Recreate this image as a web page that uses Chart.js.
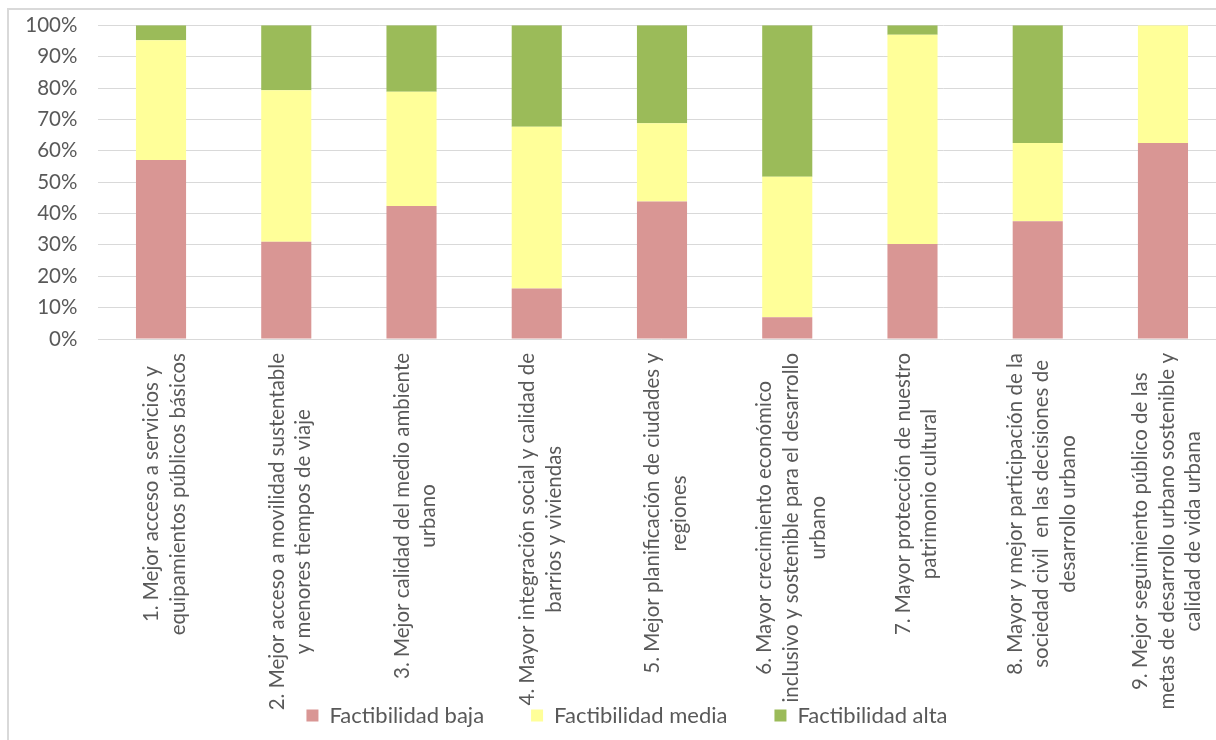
<!DOCTYPE html>
<html>
<head>
<meta charset="utf-8">
<script src="https://cdn.jsdelivr.net/npm/chart.js@4.4.1/dist/chart.umd.min.js"></script>
<style>
  html, body { margin: 0; padding: 0; background: #ffffff; overflow: hidden; width: 1216px; height: 740px; }
  #frame { position: absolute; left: 7px; top: 8px; width: 1300px; height: 800px; border: 2px solid #d9d9d9; box-sizing: border-box; }
  #chart { position: absolute; left: 0; top: 0; }
</style>
</head>
<body>
<div id="frame"></div>
<canvas id="chart" width="1240" height="740"></canvas>
<script>
// Objectives (wrapped into lines as they appear under each bar)
const categories = [
  ["1. Mejor acceso a servicios y", "equipamientos públicos básicos"],
  ["2. Mejor acceso a movilidad sustentable", "y menores tiempos de viaje"],
  ["3. Mejor calidad del medio ambiente", "urbano"],
  ["4. Mayor integración social y calidad de", "barrios y viviendas"],
  ["5. Mejor planificación de ciudades y", "regiones"],
  ["6. Mayor crecimiento económico", "inclusivo y sostenible para el desarrollo", "urbano"],
  ["7. Mayor protección de nuestro", "patrimonio cultural"],
  ["8. Mayor y mejor participación de la", "sociedad civil  en las decisiones de", "desarrollo urbano"],
  ["9. Mejor seguimiento público de las", "metas de desarrollo urbano sostenible y", "calidad de vida urbana"]
];

// Share of answers per feasibility level (%)
const factibilidadBaja  = [57.1, 31.0, 42.4, 16.1, 43.8,  6.9, 30.3, 37.5, 62.5];
const factibilidadMedia = [38.1, 48.3, 36.4, 51.6, 25.0, 44.8, 66.7, 25.0, 37.5];
const factibilidadAlta  = [ 4.8, 20.7, 21.2, 32.3, 31.2, 48.3,  3.0, 37.5,  0.0];

const seriesNames = ["Factibilidad baja", "Factibilidad media", "Factibilidad alta"];
const tickLabels = ["0%", "10%", "20%", "30%", "40%", "50%", "60%", "70%", "80%", "90%", "100%"];

const TEXT_COLOR = '#595959';
const FONT = 'Lato';

// Rotated, centre-aligned, multi-line category labels under the x axis
const categoryLabels = {
  id: 'categoryLabels',
  afterDraw(chart) {
    const { ctx, scales: { x } } = chart;
    const size = 20.5, lineStep = 26.7;
    ctx.save();
    ctx.font = size + 'px ' + FONT;
    ctx.fillStyle = TEXT_COLOR;
    ctx.textAlign = 'center';
    ctx.textBaseline = 'middle';
    const top = chart.chartArea.bottom + 14;
    chart.data.labels.forEach((lines, i) => {
      const cx = x.getPixelForValue(i) + 4;
      const w = Math.max(...lines.map(l => ctx.measureText(l).width));
      lines.forEach((line, j) => {
        const lx = cx + (j - (lines.length - 1) / 2) * lineStep;
        ctx.save();
        ctx.translate(lx, top + w / 2);
        ctx.rotate(-Math.PI / 2);
        ctx.fillText(line, 0, 0);
        ctx.restore();
      });
    });
    ctx.restore();
  }
};

// Horizontal placement of the legend row
const legendPlacement = {
  id: 'legendPlacement',
  afterLayout(chart) {
    const lg = chart.legend;
    lg.left = 14;
    lg.right = 1240;
    lg.width = lg.right - lg.left;
  }
};

new Chart(document.getElementById('chart'), {
  type: 'bar',
  data: {
    labels: categories,
    datasets: [
      { label: seriesNames[0], data: factibilidadBaja,  backgroundColor: '#D99694' },
      { label: seriesNames[1], data: factibilidadMedia, backgroundColor: '#FFFF99' },
      { label: seriesNames[2], data: factibilidadAlta,  backgroundColor: '#9BBB59' }
    ]
  },
  options: {
    responsive: false,
    animation: false,
    layout: { padding: { left: 0, right: 14.4, top: 25.3, bottom: 3.5 } },
    datasets: { bar: { categoryPercentage: 1, barPercentage: 0.4 } },
    scales: {
      x: {
        stacked: true,
        grid: { display: false, drawTicks: false },
        border: { display: false },
        ticks: { display: false },
        afterFit(s) { s.height = 318.5; }
      },
      y: {
        stacked: true,
        min: 0,
        max: 100,
        grid: { color: '#d9d9d9', lineWidth: 1, drawTicks: false },
        border: { display: false },
        ticks: {
          stepSize: 10,
          padding: 21,
          color: TEXT_COLOR,
          font: { family: FONT, size: 20.5 },
          callback: (v, i) => tickLabels[i]
        },
        afterFit(s) {
          s.width = 98.4;
          s.paddingTop = 0;
          s.paddingBottom = 0;
        }
      }
    },
    plugins: {
      legend: {
        position: 'bottom',
        labels: {
          boxWidth: 12,
          boxHeight: 12,
          padding: 47,
          color: TEXT_COLOR,
          font: { family: FONT, size: 22 }
        }
      },
      tooltip: { enabled: false }
    }
  },
  plugins: [categoryLabels, legendPlacement]
});
</script>
</body>
</html>
